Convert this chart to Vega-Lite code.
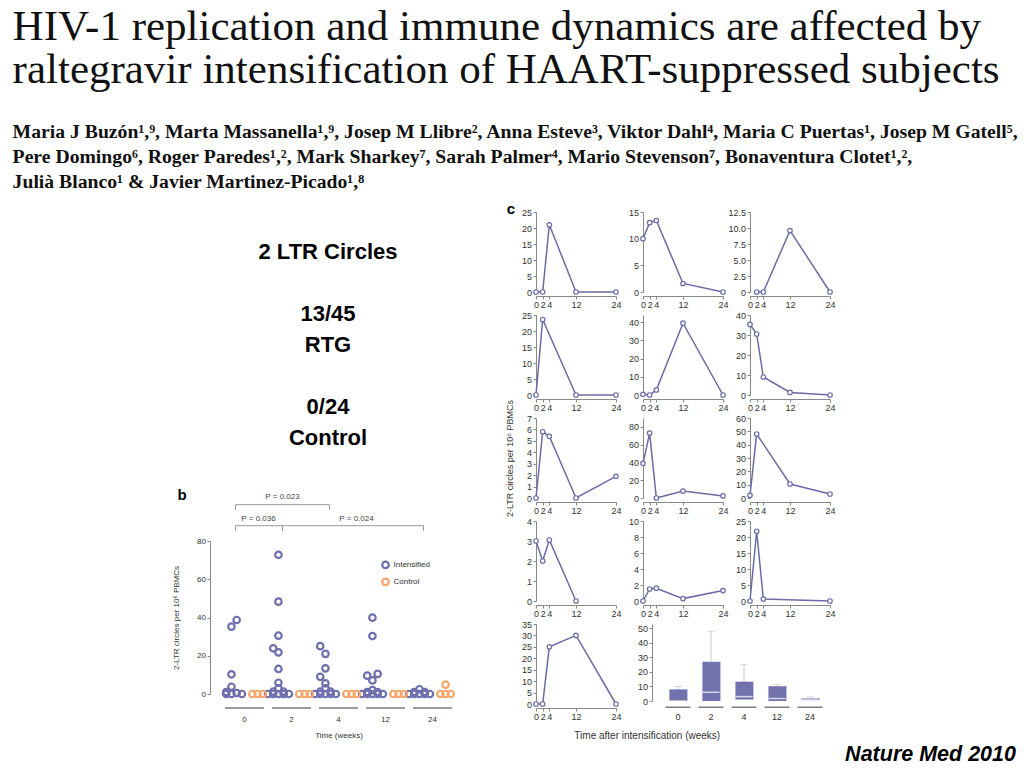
{
  "$schema": "https://vega.github.io/schema/vega-lite/v6.json",
  "padding": {"left": 12, "top": 6, "right": 2, "bottom": 2},
  "background": "white",
  "title": {
    "text": ["HIV-1 replication and immune dynamics are affected by", "raltegravir intensification of HAART-suppressed subjects"],
    "subtitle": ["Maria J Buzón¹,⁹, Marta Massanella¹,⁹, Josep M Llibre², Anna Esteve³, Viktor Dahl⁴, Maria C Puertas¹, Josep M Gatell⁵,", "Pere Domingo⁶, Roger Paredes¹,², Mark Sharkey⁷, Sarah Palmer⁴, Mario Stevenson⁷, Bonaventura Clotet¹,²,", "Julià Blanco¹ & Javier Martinez-Picado¹,⁸"],
    "anchor": "start",
    "dx": -160,
    "font": "Liberation Serif",
    "fontSize": 43,
    "fontWeight": "normal",
    "color": "#111",
    "lineHeight": 43,
    "subtitleFont": "Liberation Serif",
    "subtitleFontSize": 19.7,
    "subtitleFontWeight": "bold",
    "subtitleColor": "#111",
    "subtitleLineHeight": 25,
    "subtitlePadding": 30,
    "offset": 10
  },
  "datasets": {
    "b": [
      {"g": "Intensified", "t": "0", "s": "i3", "v": 35.2},
      {"g": "Intensified", "t": "0", "s": "i4", "v": 38.7},
      {"g": "Intensified", "t": "0", "s": "i3", "v": 10.3},
      {"g": "Intensified", "t": "0", "s": "i3", "v": 3.8},
      {"g": "Intensified", "t": "0", "s": "i2", "v": 1},
      {"g": "Intensified", "t": "0", "s": "i4", "v": 0.5},
      {"g": "Intensified", "t": "0", "s": "i5", "v": 0},
      {"g": "Intensified", "t": "0", "s": "i3", "v": 0},
      {"g": "Intensified", "t": "0", "s": "i2", "v": 0},
      {"g": "Intensified", "t": "2", "s": "i3", "v": 72.8},
      {"g": "Intensified", "t": "2", "s": "i3", "v": 48.3},
      {"g": "Intensified", "t": "2", "s": "i3", "v": 30.5},
      {"g": "Intensified", "t": "2", "s": "i2", "v": 23.9},
      {"g": "Intensified", "t": "2", "s": "i3", "v": 21.8},
      {"g": "Intensified", "t": "2", "s": "i3", "v": 13.1},
      {"g": "Intensified", "t": "2", "s": "i3", "v": 5.9},
      {"g": "Intensified", "t": "2", "s": "i3", "v": 3},
      {"g": "Intensified", "t": "2", "s": "i2", "v": 1.2},
      {"g": "Intensified", "t": "2", "s": "i4", "v": 1.2},
      {"g": "Intensified", "t": "2", "s": "i1", "v": 0},
      {"g": "Intensified", "t": "2", "s": "i2", "v": 0},
      {"g": "Intensified", "t": "2", "s": "i3", "v": 0},
      {"g": "Intensified", "t": "2", "s": "i4", "v": 0},
      {"g": "Intensified", "t": "2", "s": "i5", "v": 0},
      {"g": "Intensified", "t": "4", "s": "i2", "v": 25},
      {"g": "Intensified", "t": "4", "s": "i3", "v": 21},
      {"g": "Intensified", "t": "4", "s": "i3", "v": 13.4},
      {"g": "Intensified", "t": "4", "s": "i2", "v": 9},
      {"g": "Intensified", "t": "4", "s": "i3", "v": 5.6},
      {"g": "Intensified", "t": "4", "s": "i3", "v": 3},
      {"g": "Intensified", "t": "4", "s": "i2", "v": 1.2},
      {"g": "Intensified", "t": "4", "s": "i4", "v": 1.2},
      {"g": "Intensified", "t": "4", "s": "i1", "v": 0},
      {"g": "Intensified", "t": "4", "s": "i2", "v": 0},
      {"g": "Intensified", "t": "4", "s": "i3", "v": 0},
      {"g": "Intensified", "t": "4", "s": "i4", "v": 0},
      {"g": "Intensified", "t": "4", "s": "i5", "v": 0},
      {"g": "Intensified", "t": "12", "s": "i3", "v": 39.9},
      {"g": "Intensified", "t": "12", "s": "i3", "v": 30.3},
      {"g": "Intensified", "t": "12", "s": "i2", "v": 9.6},
      {"g": "Intensified", "t": "12", "s": "i4", "v": 10.5},
      {"g": "Intensified", "t": "12", "s": "i3", "v": 7.1},
      {"g": "Intensified", "t": "12", "s": "i3", "v": 2},
      {"g": "Intensified", "t": "12", "s": "i2", "v": 1},
      {"g": "Intensified", "t": "12", "s": "i4", "v": 1},
      {"g": "Intensified", "t": "12", "s": "i1", "v": 0},
      {"g": "Intensified", "t": "12", "s": "i2", "v": 0},
      {"g": "Intensified", "t": "12", "s": "i3", "v": 0},
      {"g": "Intensified", "t": "12", "s": "i4", "v": 0},
      {"g": "Intensified", "t": "12", "s": "i5", "v": 0},
      {"g": "Intensified", "t": "24", "s": "i3", "v": 2.5},
      {"g": "Intensified", "t": "24", "s": "i2", "v": 1},
      {"g": "Intensified", "t": "24", "s": "i4", "v": 1},
      {"g": "Intensified", "t": "24", "s": "i1", "v": 0},
      {"g": "Intensified", "t": "24", "s": "i2", "v": 0},
      {"g": "Intensified", "t": "24", "s": "i3", "v": 0},
      {"g": "Intensified", "t": "24", "s": "i4", "v": 0},
      {"g": "Intensified", "t": "24", "s": "i5", "v": 0},
      {"g": "Control", "t": "0", "s": "c2", "v": 0},
      {"g": "Control", "t": "0", "s": "c3", "v": 0},
      {"g": "Control", "t": "0", "s": "c4", "v": 0},
      {"g": "Control", "t": "2", "s": "c2", "v": 0},
      {"g": "Control", "t": "2", "s": "c3", "v": 0},
      {"g": "Control", "t": "2", "s": "c4", "v": 0},
      {"g": "Control", "t": "4", "s": "c2", "v": 0},
      {"g": "Control", "t": "4", "s": "c3", "v": 0},
      {"g": "Control", "t": "4", "s": "c4", "v": 0},
      {"g": "Control", "t": "12", "s": "c2", "v": 0},
      {"g": "Control", "t": "12", "s": "c3", "v": 0},
      {"g": "Control", "t": "12", "s": "c4", "v": 0},
      {"g": "Control", "t": "24", "s": "c2", "v": 0},
      {"g": "Control", "t": "24", "s": "c3", "v": 0},
      {"g": "Control", "t": "24", "s": "c4", "v": 0},
      {"g": "Control", "t": "24", "s": "c3", "v": 4.9}
    ],
    "br": [
      {"br": 1, "t": "0", "v": 96.3, "o": 1}, {"br": 1, "t": "0", "v": 99, "o": 2}, {"br": 1, "t": "4", "v": 99, "o": 3}, {"br": 1, "t": "4", "v": 96.3, "o": 4},
      {"br": 2, "t": "0", "v": 85.3, "o": 1}, {"br": 2, "t": "0", "v": 88, "o": 2}, {"br": 2, "t": "2", "v": 88, "o": 3}, {"br": 2, "t": "2", "v": 85.3, "o": 4},
      {"br": 3, "t": "2", "v": 85.3, "o": 1}, {"br": 3, "t": "2", "v": 88, "o": 2}, {"br": 3, "t": "24", "v": 88, "o": 3}, {"br": 3, "t": "24", "v": 85.3, "o": 4}
    ],
    "box": [
      {"t": "0", "q1": 0, "q3": 8, "med": 0, "max": 10},
      {"t": "2", "q1": 0, "q3": 27, "med": 6, "max": 48},
      {"t": "4", "q1": 1, "q3": 13.3, "med": 3, "max": 25},
      {"t": "12", "q1": 0, "q3": 10.2, "med": 1.8, "max": 11.5},
      {"t": "24", "q1": 0.6, "q3": 2, "med": 1.3, "max": 2.8}
    ],
    "weeks": [{"t": "0"}, {"t": "2"}, {"t": "4"}, {"t": "12"}, {"t": "24"}],
    "c": [
      {"p": 1, "t": 0, "v": 0}, {"p": 1, "t": 2, "v": 0}, {"p": 1, "t": 4, "v": 21}, {"p": 1, "t": 12, "v": 0}, {"p": 1, "t": 24, "v": 0},
      {"p": 2, "t": 0, "v": 10}, {"p": 2, "t": 2, "v": 13}, {"p": 2, "t": 4, "v": 13.4}, {"p": 2, "t": 12, "v": 1.6}, {"p": 2, "t": 24, "v": 0},
      {"p": 3, "t": 2, "v": 0}, {"p": 3, "t": 4, "v": 0}, {"p": 3, "t": 12, "v": 9.6}, {"p": 3, "t": 24, "v": 0},
      {"p": 4, "t": 0, "v": 0}, {"p": 4, "t": 2, "v": 23.6}, {"p": 4, "t": 12, "v": 0}, {"p": 4, "t": 24, "v": 0},
      {"p": 5, "t": 0, "v": 0.4}, {"p": 5, "t": 2, "v": 0}, {"p": 5, "t": 4, "v": 2.8}, {"p": 5, "t": 12, "v": 39.5}, {"p": 5, "t": 24, "v": 0},
      {"p": 6, "t": 0, "v": 35.3}, {"p": 6, "t": 2, "v": 30.5}, {"p": 6, "t": 4, "v": 9}, {"p": 6, "t": 12, "v": 1.3}, {"p": 6, "t": 24, "v": 0},
      {"p": 7, "t": 0, "v": 0}, {"p": 7, "t": 2, "v": 5.8}, {"p": 7, "t": 4, "v": 5.4}, {"p": 7, "t": 12, "v": 0}, {"p": 7, "t": 24, "v": 1.9},
      {"p": 8, "t": 0, "v": 39}, {"p": 8, "t": 2, "v": 73}, {"p": 8, "t": 4, "v": 0}, {"p": 8, "t": 12, "v": 7.8}, {"p": 8, "t": 24, "v": 2.3},
      {"p": 9, "t": 0, "v": 2}, {"p": 9, "t": 2, "v": 48}, {"p": 9, "t": 12, "v": 10.5}, {"p": 9, "t": 24, "v": 3},
      {"p": 10, "t": 0, "v": 3}, {"p": 10, "t": 2, "v": 2}, {"p": 10, "t": 4, "v": 3.05}, {"p": 10, "t": 12, "v": 0},
      {"p": 11, "t": 0, "v": 0}, {"p": 11, "t": 2, "v": 1.5}, {"p": 11, "t": 4, "v": 1.6}, {"p": 11, "t": 12, "v": 0.3}, {"p": 11, "t": 24, "v": 1.3},
      {"p": 12, "t": 0, "v": 0}, {"p": 12, "t": 2, "v": 21.8}, {"p": 12, "t": 4, "v": 0.6}, {"p": 12, "t": 24, "v": 0},
      {"p": 13, "t": 0, "v": 0}, {"p": 13, "t": 2, "v": 0}, {"p": 13, "t": 4, "v": 25}, {"p": 13, "t": 12, "v": 30}, {"p": 13, "t": 24, "v": 0}
    ]
  },
  "hconcat": [
    {
      "concat": [
        {
          "width": 236,
          "height": 80,
          "data": {"values": [{"label": "2 LTR Circles\n\u2800\n13/45\nRTG\n\u2800\n0/24\nControl"}]},
          "mark": {"type": "text", "font": "Liberation Sans", "fontSize": 22, "fontWeight": "bold", "lineBreak": "\n", "lineHeight": 31, "baseline": "middle", "align": "center", "color": "#000"},
          "encoding": {"text": {"field": "label"}}
        },
        {
          "width": 257,
          "height": 153,
          "title": {"text": "b", "anchor": "start", "frame": "bounds", "font": "Liberation Sans", "fontSize": 15, "fontWeight": "bold", "color": "#000", "offset": -10, "dx": 5},
          "layer": [
            {
              "data": {"name": "weeks"},
              "mark": {"type": "tick", "color": "#444", "thickness": 1.5, "size": 39},
              "encoding": {
                "x": {"field": "t", "type": "ordinal", "title": "Time (weeks)", "scale": {"domain": ["0", "2", "4", "12", "24"], "paddingInner": 0, "paddingOuter": 0.234}, "axis": {"domain": false, "ticks": false, "labelPadding": 21, "labelAngle": 0, "labelFontSize": 8, "titleFontSize": 8, "titlePadding": 8}},
                "y": {"datum": -7.3, "type": "quantitative", "title": "2-LTR circles per 10⁶ PBMCs", "scale": {"domain": [0, 80], "nice": false}, "axis": {"values": [0, 20, 40, 60, 80], "labelFontSize": 8, "titleFontSize": 8, "titlePadding": 16}}
              }
            },
            {
              "data": {"name": "br"},
              "mark": {"type": "line", "color": "#999", "strokeWidth": 1, "xOffset": -9},
              "encoding": {
                "x": {"field": "t", "type": "ordinal", "title": "Time (weeks)", "scale": {"domain": ["0", "2", "4", "12", "24"], "paddingInner": 0, "paddingOuter": 0.234}, "axis": {"domain": false, "ticks": false, "labelPadding": 21, "labelAngle": 0, "labelFontSize": 8, "titleFontSize": 8, "titlePadding": 8}},
                "y": {"field": "v", "type": "quantitative", "title": "2-LTR circles per 10⁶ PBMCs", "scale": {"domain": [0, 80], "nice": false}, "axis": {"values": [0, 20, 40, 60, 80], "labelFontSize": 8, "titleFontSize": 8, "titlePadding": 16}},
                "detail": {"field": "br"}, "order": {"field": "o"}}
            },
            {
              "data": {"values": [{"t": "2", "v": 103, "label": "P = 0.023"}]},
              "mark": {"type": "text", "fontSize": 8, "color": "#444", "dx": -9, "baseline": "middle"},
              "encoding": {
                "x": {"field": "t", "type": "ordinal", "title": "Time (weeks)", "scale": {"domain": ["0", "2", "4", "12", "24"], "paddingInner": 0, "paddingOuter": 0.234}, "axis": {"domain": false, "ticks": false, "labelPadding": 21, "labelAngle": 0, "labelFontSize": 8, "titleFontSize": 8, "titlePadding": 8}},
                "y": {"field": "v", "type": "quantitative", "title": "2-LTR circles per 10⁶ PBMCs", "scale": {"domain": [0, 80], "nice": false}, "axis": {"values": [0, 20, 40, 60, 80], "labelFontSize": 8, "titleFontSize": 8, "titlePadding": 16}},
                "text": {"field": "label"}}
            },
            {
              "data": {"values": [{"t": "0", "v": 91.5, "label": "P = 0.036"}]},
              "mark": {"type": "text", "fontSize": 8, "color": "#444", "dx": 14, "baseline": "middle"},
              "encoding": {
                "x": {"field": "t", "type": "ordinal", "title": "Time (weeks)", "scale": {"domain": ["0", "2", "4", "12", "24"], "paddingInner": 0, "paddingOuter": 0.234}, "axis": {"domain": false, "ticks": false, "labelPadding": 21, "labelAngle": 0, "labelFontSize": 8, "titleFontSize": 8, "titlePadding": 8}},
                "y": {"field": "v", "type": "quantitative", "title": "2-LTR circles per 10⁶ PBMCs", "scale": {"domain": [0, 80], "nice": false}, "axis": {"values": [0, 20, 40, 60, 80], "labelFontSize": 8, "titleFontSize": 8, "titlePadding": 16}},
                "text": {"field": "label"}}
            },
            {
              "data": {"values": [{"t": "4", "v": 91.5, "label": "P = 0.024"}]},
              "mark": {"type": "text", "fontSize": 8, "color": "#444", "dx": 18, "baseline": "middle"},
              "encoding": {
                "x": {"field": "t", "type": "ordinal", "title": "Time (weeks)", "scale": {"domain": ["0", "2", "4", "12", "24"], "paddingInner": 0, "paddingOuter": 0.234}, "axis": {"domain": false, "ticks": false, "labelPadding": 21, "labelAngle": 0, "labelFontSize": 8, "titleFontSize": 8, "titlePadding": 8}},
                "y": {"field": "v", "type": "quantitative", "title": "2-LTR circles per 10⁶ PBMCs", "scale": {"domain": [0, 80], "nice": false}, "axis": {"values": [0, 20, 40, 60, 80], "labelFontSize": 8, "titleFontSize": 8, "titlePadding": 16}},
                "text": {"field": "label"}}
            },
            {
              "data": {"name": "b"},
              "mark": {"type": "point", "filled": false, "strokeWidth": 2.2, "size": 42, "opacity": 1},
              "encoding": {
                "x": {"field": "t", "type": "ordinal", "title": "Time (weeks)", "scale": {"domain": ["0", "2", "4", "12", "24"], "paddingInner": 0, "paddingOuter": 0.234}, "axis": {"domain": false, "ticks": false, "labelPadding": 21, "labelAngle": 0, "labelFontSize": 8, "titleFontSize": 8, "titlePadding": 8}},
                "y": {"field": "v", "type": "quantitative", "title": "2-LTR circles per 10⁶ PBMCs", "scale": {"domain": [0, 80], "nice": false}, "axis": {"values": [0, 20, 40, 60, 80], "labelFontSize": 8, "titleFontSize": 8, "titlePadding": 16}},
                "xOffset": {"field": "s", "type": "nominal", "scale": {"domain": ["i1", "i2", "i3", "i4", "i5", "c1", "c2", "c3", "c4", "c5"], "paddingInner": 0, "paddingOuter": 0}},
                "color": {"field": "g", "type": "nominal", "scale": {"domain": ["Intensified", "Control"], "range": ["#6f6fae", "#f5a76c"]}, "legend": null}
              }
            },
            {
              "data": {"values": [{"label": "Intensified"}]},
              "mark": {"type": "point", "filled": false, "strokeWidth": 2.2, "size": 42, "opacity": 1, "color": "#6f6fae"},
              "encoding": {
                "x": {"datum": "12", "type": "ordinal", "title": "Time (weeks)", "scale": {"domain": ["0", "2", "4", "12", "24"], "paddingInner": 0, "paddingOuter": 0.234}, "axis": {"domain": false, "ticks": false, "labelPadding": 21, "labelAngle": 0, "labelFontSize": 8, "titleFontSize": 8, "titlePadding": 8}},
                "y": {"datum": 67.5, "type": "quantitative", "title": "2-LTR circles per 10⁶ PBMCs", "scale": {"domain": [0, 80], "nice": false}, "axis": {"values": [0, 20, 40, 60, 80], "labelFontSize": 8, "titleFontSize": 8, "titlePadding": 16}}
              }
            },
            {
              "data": {"values": [{"label": "Intensified"}]},
              "mark": {"type": "text", "fontSize": 8, "color": "#333", "align": "left", "dx": 8, "baseline": "middle"},
              "encoding": {
                "x": {"datum": "12", "type": "ordinal", "title": "Time (weeks)", "scale": {"domain": ["0", "2", "4", "12", "24"], "paddingInner": 0, "paddingOuter": 0.234}, "axis": {"domain": false, "ticks": false, "labelPadding": 21, "labelAngle": 0, "labelFontSize": 8, "titleFontSize": 8, "titlePadding": 8}},
                "y": {"datum": 67.5, "type": "quantitative", "title": "2-LTR circles per 10⁶ PBMCs", "scale": {"domain": [0, 80], "nice": false}, "axis": {"values": [0, 20, 40, 60, 80], "labelFontSize": 8, "titleFontSize": 8, "titlePadding": 16}},
                "text": {"field": "label"}}
            },
            {
              "data": {"values": [{"label": "Control"}]},
              "mark": {"type": "point", "filled": false, "strokeWidth": 2.2, "size": 42, "opacity": 1, "color": "#f5a76c"},
              "encoding": {
                "x": {"datum": "12", "type": "ordinal", "title": "Time (weeks)", "scale": {"domain": ["0", "2", "4", "12", "24"], "paddingInner": 0, "paddingOuter": 0.234}, "axis": {"domain": false, "ticks": false, "labelPadding": 21, "labelAngle": 0, "labelFontSize": 8, "titleFontSize": 8, "titlePadding": 8}},
                "y": {"datum": 58.6, "type": "quantitative", "title": "2-LTR circles per 10⁶ PBMCs", "scale": {"domain": [0, 80], "nice": false}, "axis": {"values": [0, 20, 40, 60, 80], "labelFontSize": 8, "titleFontSize": 8, "titlePadding": 16}}
              }
            },
            {
              "data": {"values": [{"label": "Control"}]},
              "mark": {"type": "text", "fontSize": 8, "color": "#333", "align": "left", "dx": 8, "baseline": "middle"},
              "encoding": {
                "x": {"datum": "12", "type": "ordinal", "title": "Time (weeks)", "scale": {"domain": ["0", "2", "4", "12", "24"], "paddingInner": 0, "paddingOuter": 0.234}, "axis": {"domain": false, "ticks": false, "labelPadding": 21, "labelAngle": 0, "labelFontSize": 8, "titleFontSize": 8, "titlePadding": 8}},
                "y": {"datum": 58.6, "type": "quantitative", "title": "2-LTR circles per 10⁶ PBMCs", "scale": {"domain": [0, 80], "nice": false}, "axis": {"values": [0, 20, 40, 60, 80], "labelFontSize": 8, "titleFontSize": 8, "titlePadding": 16}},
                "text": {"field": "label"}}
            }
          ]
        }
      ],
      "columns": 1,
      "align": "each",
      "spacing": 39
    },
    {
      "vconcat": [
        {
          "concat": [
            {"width": 80, "height": 80, "data": {"name": "c"}, "transform": [{"filter": "datum.p == 1"}],
              "title": {"text": "c", "orient": "left", "anchor": "end", "angle": 0, "align": "right", "baseline": "top", "font": "Liberation Sans", "fontSize": 15, "fontWeight": "bold", "color": "#000", "offset": -2, "dy": -6},
              "encoding": {"x": {"field": "t", "type": "quantitative", "title": null, "scale": {"domain": [0, 24], "nice": false}, "axis": {"values": [0, 2, 4, 12, 24]}},
                "y": {"field": "v", "type": "quantitative", "title": null, "scale": {"domain": [0, 25], "nice": false}, "axis": {"values": [0, 5, 10, 15, 20, 25]}}},
              "layer": [{"mark": {"type": "line", "color": "#6b6ba6", "strokeWidth": 1.5}}, {"mark": {"type": "point", "filled": true, "fill": "white", "stroke": "#6b6ba6", "strokeWidth": 1.2, "size": 20, "opacity": 1}}]},
            {"width": 80, "height": 80, "data": {"name": "c"}, "transform": [{"filter": "datum.p == 2"}],
              "encoding": {"x": {"field": "t", "type": "quantitative", "title": null, "scale": {"domain": [0, 24], "nice": false}, "axis": {"values": [0, 2, 4, 12, 24]}},
                "y": {"field": "v", "type": "quantitative", "title": null, "scale": {"domain": [0, 15], "nice": false}, "axis": {"values": [0, 5, 10, 15]}}},
              "layer": [{"mark": {"type": "line", "color": "#6b6ba6", "strokeWidth": 1.5}}, {"mark": {"type": "point", "filled": true, "fill": "white", "stroke": "#6b6ba6", "strokeWidth": 1.2, "size": 20, "opacity": 1}}]},
            {"width": 80, "height": 80, "data": {"name": "c"}, "transform": [{"filter": "datum.p == 3"}],
              "encoding": {"x": {"field": "t", "type": "quantitative", "title": null, "scale": {"domain": [0, 24], "nice": false}, "axis": {"values": [0, 2, 4, 12, 24]}},
                "y": {"field": "v", "type": "quantitative", "title": null, "scale": {"domain": [0, 12.5], "nice": false}, "axis": {"values": [0, 2.5, 5, 7.5, 10, 12.5], "labelExpr": "datum.value == 0 ? '0' : format(datum.value, '.1f')"}}},
              "layer": [{"mark": {"type": "line", "color": "#6b6ba6", "strokeWidth": 1.5}}, {"mark": {"type": "point", "filled": true, "fill": "white", "stroke": "#6b6ba6", "strokeWidth": 1.2, "size": 20, "opacity": 1}}]},
            {"width": 80, "height": 80, "data": {"name": "c"}, "transform": [{"filter": "datum.p == 4"}],
              "encoding": {"x": {"field": "t", "type": "quantitative", "title": null, "scale": {"domain": [0, 24], "nice": false}, "axis": {"values": [0, 2, 4, 12, 24]}},
                "y": {"field": "v", "type": "quantitative", "title": null, "scale": {"domain": [0, 25], "nice": false}, "axis": {"values": [0, 5, 10, 15, 20, 25]}}},
              "layer": [{"mark": {"type": "line", "color": "#6b6ba6", "strokeWidth": 1.5}}, {"mark": {"type": "point", "filled": true, "fill": "white", "stroke": "#6b6ba6", "strokeWidth": 1.2, "size": 20, "opacity": 1}}]},
            {"width": 80, "height": 80, "data": {"name": "c"}, "transform": [{"filter": "datum.p == 5"}],
              "encoding": {"x": {"field": "t", "type": "quantitative", "title": null, "scale": {"domain": [0, 24], "nice": false}, "axis": {"values": [0, 2, 4, 12, 24]}},
                "y": {"field": "v", "type": "quantitative", "title": null, "scale": {"domain": [0, 44], "nice": false}, "axis": {"values": [0, 10, 20, 30, 40]}}},
              "layer": [{"mark": {"type": "line", "color": "#6b6ba6", "strokeWidth": 1.5}}, {"mark": {"type": "point", "filled": true, "fill": "white", "stroke": "#6b6ba6", "strokeWidth": 1.2, "size": 20, "opacity": 1}}]},
            {"width": 80, "height": 80, "data": {"name": "c"}, "transform": [{"filter": "datum.p == 6"}],
              "encoding": {"x": {"field": "t", "type": "quantitative", "title": null, "scale": {"domain": [0, 24], "nice": false}, "axis": {"values": [0, 2, 4, 12, 24]}},
                "y": {"field": "v", "type": "quantitative", "title": null, "scale": {"domain": [0, 40], "nice": false}, "axis": {"values": [0, 10, 20, 30, 40]}}},
              "layer": [{"mark": {"type": "line", "color": "#6b6ba6", "strokeWidth": 1.5}}, {"mark": {"type": "point", "filled": true, "fill": "white", "stroke": "#6b6ba6", "strokeWidth": 1.2, "size": 20, "opacity": 1}}]},
            {"width": 80, "height": 80, "data": {"name": "c"}, "transform": [{"filter": "datum.p == 7"}],
              "encoding": {"x": {"field": "t", "type": "quantitative", "title": null, "scale": {"domain": [0, 24], "nice": false}, "axis": {"values": [0, 2, 4, 12, 24]}},
                "y": {"field": "v", "type": "quantitative", "title": "2-LTR circles per 10⁶ PBMCs", "scale": {"domain": [0, 7], "nice": false}, "axis": {"values": [0, 1, 2, 3, 4, 5, 6, 7], "titlePadding": 12}}},
              "layer": [{"mark": {"type": "line", "color": "#6b6ba6", "strokeWidth": 1.5}}, {"mark": {"type": "point", "filled": true, "fill": "white", "stroke": "#6b6ba6", "strokeWidth": 1.2, "size": 20, "opacity": 1}}]},
            {"width": 80, "height": 80, "data": {"name": "c"}, "transform": [{"filter": "datum.p == 8"}],
              "encoding": {"x": {"field": "t", "type": "quantitative", "title": null, "scale": {"domain": [0, 24], "nice": false}, "axis": {"values": [0, 2, 4, 12, 24]}},
                "y": {"field": "v", "type": "quantitative", "title": null, "scale": {"domain": [0, 90], "nice": false}, "axis": {"values": [0, 20, 40, 60, 80]}}},
              "layer": [{"mark": {"type": "line", "color": "#6b6ba6", "strokeWidth": 1.5}}, {"mark": {"type": "point", "filled": true, "fill": "white", "stroke": "#6b6ba6", "strokeWidth": 1.2, "size": 20, "opacity": 1}}]},
            {"width": 80, "height": 80, "data": {"name": "c"}, "transform": [{"filter": "datum.p == 9"}],
              "encoding": {"x": {"field": "t", "type": "quantitative", "title": null, "scale": {"domain": [0, 24], "nice": false}, "axis": {"values": [0, 2, 4, 12, 24]}},
                "y": {"field": "v", "type": "quantitative", "title": null, "scale": {"domain": [0, 60], "nice": false}, "axis": {"values": [0, 10, 20, 30, 40, 50, 60]}}},
              "layer": [{"mark": {"type": "line", "color": "#6b6ba6", "strokeWidth": 1.5}}, {"mark": {"type": "point", "filled": true, "fill": "white", "stroke": "#6b6ba6", "strokeWidth": 1.2, "size": 20, "opacity": 1}}]},
            {"width": 80, "height": 80, "data": {"name": "c"}, "transform": [{"filter": "datum.p == 10"}],
              "encoding": {"x": {"field": "t", "type": "quantitative", "title": null, "scale": {"domain": [0, 24], "nice": false}, "axis": {"values": [0, 2, 4, 12, 24]}},
                "y": {"field": "v", "type": "quantitative", "title": null, "scale": {"domain": [0, 4], "nice": false}, "axis": {"values": [0, 1, 2, 3, 4]}}},
              "layer": [{"mark": {"type": "line", "color": "#6b6ba6", "strokeWidth": 1.5}}, {"mark": {"type": "point", "filled": true, "fill": "white", "stroke": "#6b6ba6", "strokeWidth": 1.2, "size": 20, "opacity": 1}}]},
            {"width": 80, "height": 80, "data": {"name": "c"}, "transform": [{"filter": "datum.p == 11"}],
              "encoding": {"x": {"field": "t", "type": "quantitative", "title": null, "scale": {"domain": [0, 24], "nice": false}, "axis": {"values": [0, 2, 4, 12, 24]}},
                "y": {"field": "v", "type": "quantitative", "title": null, "scale": {"domain": [0, 10], "nice": false}, "axis": {"values": [0, 2, 4, 6, 8, 10]}}},
              "layer": [{"mark": {"type": "line", "color": "#6b6ba6", "strokeWidth": 1.5}}, {"mark": {"type": "point", "filled": true, "fill": "white", "stroke": "#6b6ba6", "strokeWidth": 1.2, "size": 20, "opacity": 1}}]},
            {"width": 80, "height": 80, "data": {"name": "c"}, "transform": [{"filter": "datum.p == 12"}],
              "encoding": {"x": {"field": "t", "type": "quantitative", "title": null, "scale": {"domain": [0, 24], "nice": false}, "axis": {"values": [0, 2, 4, 12, 24]}},
                "y": {"field": "v", "type": "quantitative", "title": null, "scale": {"domain": [0, 25], "nice": false}, "axis": {"values": [0, 5, 10, 15, 20, 25]}}},
              "layer": [{"mark": {"type": "line", "color": "#6b6ba6", "strokeWidth": 1.5}}, {"mark": {"type": "point", "filled": true, "fill": "white", "stroke": "#6b6ba6", "strokeWidth": 1.2, "size": 20, "opacity": 1}}]},
            {"width": 80, "height": 80, "data": {"name": "c"}, "transform": [{"filter": "datum.p == 13"}],
              "encoding": {"x": {"field": "t", "type": "quantitative", "title": null, "scale": {"domain": [0, 24], "nice": false}, "axis": {"values": [0, 2, 4, 12, 24]}},
                "y": {"field": "v", "type": "quantitative", "title": null, "scale": {"domain": [0, 35], "nice": false}, "axis": {"values": [0, 5, 10, 15, 20, 25, 30, 35]}}},
              "layer": [{"mark": {"type": "line", "color": "#6b6ba6", "strokeWidth": 1.5}}, {"mark": {"type": "point", "filled": true, "fill": "white", "stroke": "#6b6ba6", "strokeWidth": 1.2, "size": 20, "opacity": 1}}]},
            {"width": 80, "height": 77, "data": {"name": "box"},
              "encoding": {"x": {"field": "t", "type": "ordinal", "title": null, "scale": {"domain": ["0", "2", "4", "12", "24"], "range": [0, 202], "paddingInner": 0, "paddingOuter": 0.56}, "axis": {"domain": false, "ticks": false, "labelPadding": 11, "labelAngle": 0}}},
              "layer": [
                {"mark": {"type": "rule", "color": "#c8c8d0", "strokeWidth": 1}, "encoding": {"y": {"field": "q3", "type": "quantitative", "title": null, "scale": {"domain": [0, 53], "nice": false}, "axis": {"values": [0, 10, 20, 30, 40, 50], "offset": -9}}, "y2": {"field": "max"}}},
                {"mark": {"type": "tick", "color": "#c8c8d0", "thickness": 1, "size": 8}, "encoding": {"y": {"field": "max", "type": "quantitative", "title": null, "scale": {"domain": [0, 53], "nice": false}, "axis": {"values": [0, 10, 20, 30, 40, 50], "offset": -9}}}},
                {"mark": {"type": "bar", "color": "#7272ae", "width": {"band": 0.52}}, "encoding": {"y": {"field": "q1", "type": "quantitative", "title": null, "scale": {"domain": [0, 53], "nice": false}, "axis": {"values": [0, 10, 20, 30, 40, 50], "offset": -9}}, "y2": {"field": "q3"}}},
                {"mark": {"type": "tick", "color": "white", "thickness": 1.5, "size": 17}, "encoding": {"y": {"field": "med", "type": "quantitative", "title": null, "scale": {"domain": [0, 53], "nice": false}, "axis": {"values": [0, 10, 20, 30, 40, 50], "offset": -9}}}},
                {"mark": {"type": "tick", "color": "#444", "thickness": 1.5, "size": 25}, "encoding": {"y": {"datum": -4.3, "type": "quantitative", "title": null, "scale": {"domain": [0, 53], "nice": false}, "axis": {"values": [0, 10, 20, 30, 40, 50], "offset": -9}}}}
              ]}
          ],
          "columns": 3,
          "align": "all",
          "bounds": "flush",
          "spacing": {"row": 23, "column": 27},
          "title": {"text": "Time after intensification (weeks)", "orient": "bottom", "anchor": "middle", "font": "Liberation Sans", "fontSize": 10, "fontWeight": "normal", "color": "#333", "offset": 9, "dx": -28}
        },
        {
          "width": 480,
          "height": 16,
          "data": {"values": [{"src": "Nature Med 2010"}]},
          "mark": {"type": "text", "align": "right", "baseline": "middle", "font": "Liberation Sans", "fontSize": 21.5, "fontWeight": "bold", "fontStyle": "italic", "color": "#000"},
          "encoding": {"text": {"field": "src"}, "x": {"datum": 1, "type": "quantitative", "scale": {"domain": [0, 1]}, "axis": null}}
        }
      ],
      "spacing": 3
    }
  ],
  "spacing": 38,
  "config": {
    "view": {"stroke": null},
    "font": "Liberation Sans",
    "axis": {"grid": false, "labelFont": "Liberation Sans", "labelFontSize": 9, "labelColor": "#333", "domainColor": "#888", "tickColor": "#888", "tickSize": 3, "labelPadding": 1.5, "titleFont": "Liberation Sans", "titleFontWeight": "normal", "titleFontSize": 9, "titleColor": "#333", "labelFlush": false, "labelOverlap": false},
    "axisXQuantitative": {"offset": 4}
  }
}
